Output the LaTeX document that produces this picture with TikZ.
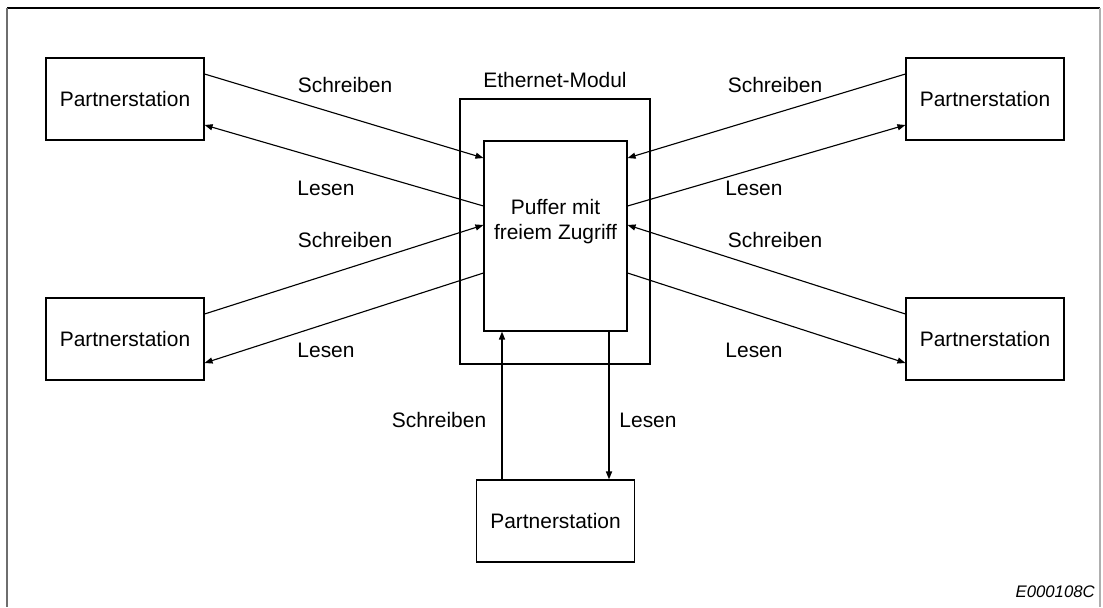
\documentclass[tikz,border=0pt]{standalone}
\usepackage{fontspec}
\setmainfont{Liberation Sans}
\usepackage{tikz}
\usetikzlibrary{arrows.meta, positioning, calc}
\definecolor{framegray}{RGB}{110, 110, 110}
\definecolor{framelight}{RGB}{175, 175, 175}

\begin{document}
\begin{tikzpicture}[
    pbox/.style={draw, line width=0.8pt, minimum width=3.95cm,
        minimum height=2.05cm, inner sep=0pt, font=\fontsize{14.9}{17.8}\selectfont},
    modbox/.style={draw, line width=0.8pt, minimum width=4.75cm,
        minimum height=6.625cm, inner sep=0pt},
    bufbox/.style={draw, line width=0.8pt, fill=white, minimum width=3.575cm,
        minimum height=4.75cm, inner sep=0pt},
    lbl/.style={font=\fontsize{14.9}{17.8}\selectfont, inner sep=0pt},
    arr/.style={-{Triangle[length=2mm, width=1.5mm]}, line width=0.8pt},
    varr/.style={-{Triangle[length=2mm, width=1.5mm]}, line width=1.1pt}
]
    \useasboundingbox (0,0) rectangle (27.575,-15.175);
    % frame
    \draw[line width=0.9pt] (0.175,-0.2) -- (27.5,-0.2);
    \draw[line width=1.2pt, framegray] (0.175,-0.2) -- (0.175,-15.175);
    \draw[line width=0.8pt, framelight] (27.5,-0.2) -- (27.5,-15.175);

    % module and buffer
    \node[modbox] (mod) at (13.875,-5.7875) {};
    \node[lbl] (modtext) at (13.875,-2.0) {Ethernet-Modul};
    \node[bufbox] (buf) at (13.8875,-5.9) {};
    \node[lbl, align=center] (buftext) at ([yshift=0.35cm]buf.center) {Puffer mit\\freiem Zugriff};

    % partner stations
    \node[pbox] (tl) at (3.125,-2.475) {Partnerstation};
    \node[pbox] (tr) at (24.625,-2.475) {Partnerstation};
    \node[pbox] (bl) at (3.125,-8.475) {Partnerstation};
    \node[pbox] (br) at (24.625,-8.475) {Partnerstation};
    \node[pbox] (bt) at (13.8875,-13.025) {Partnerstation};

    % left side
    \draw[arr] ([yshift=0.625cm]tl.east) -- ([yshift=1.95cm]buf.west);
    \draw[arr] ([yshift=0.75cm]buf.west) -- ([yshift=-0.65cm]tl.east);
    \draw[arr] ([yshift=0.625cm]bl.east) -- ([yshift=0.275cm]buf.west);
    \draw[arr] ([yshift=-0.925cm]buf.west) -- ([yshift=-0.6cm]bl.east);
    \node[lbl] (tlw) at (8.625,-2.125) {Schreiben};
    \node[lbl] (tlr) at (8.15,-4.7) {Lesen};
    \node[lbl] (blw) at (8.625,-6.0) {Schreiben};
    \node[lbl] (blr) at (8.15,-8.75) {Lesen};

    % right side
    \draw[arr] ([yshift=0.625cm]tr.west) -- ([yshift=1.95cm]buf.east);
    \draw[arr] ([yshift=0.75cm]buf.east) -- ([yshift=-0.65cm]tr.west);
    \draw[arr] ([yshift=0.625cm]br.west) -- ([yshift=0.275cm]buf.east);
    \draw[arr] ([yshift=-0.925cm]buf.east) -- ([yshift=-0.6cm]br.west);
    \node[lbl] (trw) at (19.375,-2.125) {Schreiben};
    \node[lbl] (trr) at (18.85,-4.7) {Lesen};
    \node[lbl] (brw) at (19.375,-6.0) {Schreiben};
    \node[lbl] (brr) at (18.85,-8.75) {Lesen};

    % bottom
    \draw[varr] ([xshift=-1.3375cm]bt.north) -- ([xshift=-1.3375cm]buf.south);
    \draw[varr] ([xshift=1.3375cm]buf.south) -- ([xshift=1.3375cm]bt.north);
    \node[lbl] (btw) at (10.975,-10.5) {Schreiben};
    \node[lbl] (btr) at (16.2,-10.5) {Lesen};

    \node[lbl, anchor=east, font=\fontsize{11.9}{14}\selectfont\itshape] (code) at (27.375,-14.8) {E000108C};
\end{tikzpicture}
\end{document}
